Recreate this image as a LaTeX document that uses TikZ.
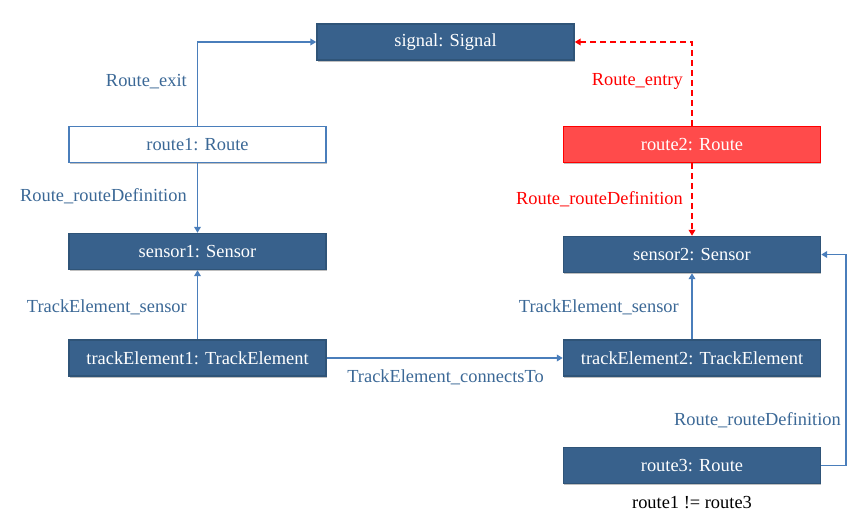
\documentclass[tikz,border=0pt]{standalone}
\usepackage{fontspec}
\setmainfont{Liberation Serif}
\usetikzlibrary{arrows.meta,shadows}
\definecolor{boxfill}{HTML}{38618C}
\definecolor{boxline}{HTML}{2F5478}
\definecolor{lightline}{HTML}{4A7EBB}
\definecolor{labelblue}{HTML}{3B6896}
\definecolor{redfill}{HTML}{FF4B4B}
\definecolor{redline}{HTML}{FF0000}
\tikzset{
  obj/.style={rectangle, minimum width=192.75pt, minimum height=27pt, inner sep=0pt,
    font=\fontsize{13.8}{15}\selectfont, line width=1.1pt,
    drop shadow={shadow xshift=0.4pt, shadow yshift=-1.2pt, opacity=0.25, fill=black}},
  darkobj/.style={obj, fill=boxfill, draw=boxline, text=white},
  whiteobj/.style={obj, fill=white, draw=lightline, text=labelblue},
  redobj/.style={obj, fill=redfill, draw=redline, text=white},
  lbl/.style={font=\fontsize{13.8}{15}\selectfont, text=labelblue, inner sep=0pt},
  redlbl/.style={lbl, text=redline},
  conn/.style={draw=lightline, line width=1.3pt, -{Triangle[width=5pt,length=4.5pt]}},
  redconn/.style={draw=redline, line width=1.3pt, dash pattern=on 4.5pt off 3pt, -{Triangle[width=5pt,length=4.5pt]}},
}
\begin{document}
\begin{tikzpicture}[x=0.75pt,y=-0.75pt]
\useasboundingbox (0,0) rectangle (859,531);
\node[darkobj] (sig) at (445.5,42) {signal: Signal};
\node[whiteobj] (r1) at (197.5,144.5) {route1: Route};
\node[redobj] (r2) at (692,144.5) {route2: Route};
\node[darkobj] (s1) at (197.5,251.5) {sensor1: Sensor};
\node[darkobj] (s2) at (692,254.5) {sensor2: Sensor};
\node[darkobj] (t1) at (197.5,358) {trackElement1: TrackElement};
\node[darkobj] (t2) at (692,358) {trackElement2: TrackElement};
\node[darkobj] (r3) at (692,465.5) {route3: Route};
\node[font=\fontsize{13.8}{15}\selectfont, inner sep=0pt] (note) at (692,503) {route1 != route3};
\coordinate (c3) at (846,465.5);

\draw[conn] (r1.north) |- (sig.west);
\draw[redconn] (r2.north) |- (sig.east);
\draw[conn] (r1) -- (s1);
\draw[redconn] (r2) -- (s2);
\draw[conn] (t1) -- (s1);
\draw[conn] (t2) -- (s2);
\draw[conn] (t1) -- (t2);
\draw[conn] (r3.east) -- (c3) |- (s2.east);

\node[lbl, anchor=east] (l1) at (187,82) {Route\_exit};
\node[lbl, anchor=east] (l2) at (187,196) {Route\_routeDefinition};
\node[lbl, anchor=east] (l3) at (187,307) {TrackElement\_sensor};
\node[lbl] (l4) at (445.5,377) {TrackElement\_connectsTo};
\node[redlbl, anchor=east] (l5) at (683,81) {Route\_entry};
\node[redlbl, anchor=east] (l6) at (683,199) {Route\_routeDefinition};
\node[lbl, anchor=east] (l7) at (679,307) {TrackElement\_sensor};
\node[lbl] (l8) at (757.5,420) {Route\_routeDefinition};
\end{tikzpicture}
\end{document}
